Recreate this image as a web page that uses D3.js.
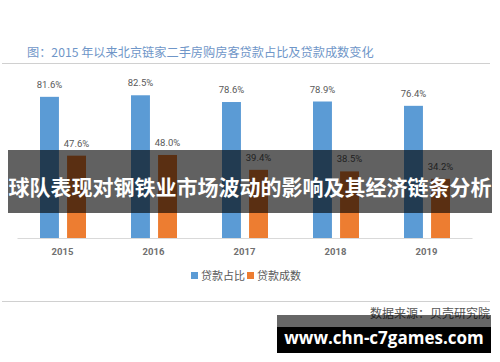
<!DOCTYPE html>
<html>
<head>
<meta charset="utf-8">
<script src="https://cdn.jsdelivr.net/npm/d3@7"></script>
<style>
  body { margin: 0; background: #fff; }
  svg { display: block; }
</style>
</head>
<body>
<div id="chart"></div>
<script>
// data
var years = ['2015', '2016', '2017', '2018', '2019'];
var loanShare = [81.6, 82.5, 78.6, 78.9, 76.4];   // 贷款占比
var loanRatio = [47.6, 48.0, 39.4, 38.5, 34.2];   // 贷款成数
var seriesNames = ['贷款占比', '贷款成数'];
var colors = ['#5b9bd5', '#ed7d31'];

var W = 500, H = 362;
var cjk = '"Noto Sans CJK SC", "Noto Sans", sans-serif';

var svg = d3.select('#chart').append('svg')
    .attr('width', W).attr('height', H);

// title + rules
svg.append('text')
    .attr('x', 27).attr('y', 57)
    .attr('font-family', cjk).attr('font-size', 12.2)
    .attr('fill', '#6f96c8')
    .text('图：2015 年以来北京链家二手房购房客贷款占比及贷款成数变化');

svg.append('line').attr('x1', 2).attr('x2', 490).attr('y1', 63.5).attr('y2', 63.5)
    .attr('stroke', '#d0d0d0').attr('stroke-width', 1);
svg.append('line').attr('x1', 2).attr('x2', 490).attr('y1', 301.5).attr('y2', 301.5)
    .attr('stroke', '#d0d0d0').attr('stroke-width', 1);

// scales
var x0 = d3.scaleBand().domain(years).range([17, 472]).padding(0);
var x1 = d3.scaleBand().domain([0, 1]).range([23, 69]).paddingInner(0.3);
var y = d3.scaleLinear().domain([0, 100]).range([238, 65]);

var data = years.map(function(yr, i) {
    return { year: yr, vals: [loanShare[i], loanRatio[i]] };
});

var g = svg.selectAll('.year').data(data).enter().append('g')
    .attr('class', 'year')
    .attr('transform', function(d) { return 'translate(' + x0(d.year) + ',0)'; });

g.selectAll('rect').data(function(d) { return d.vals; }).enter().append('rect')
    .attr('x', function(d, i) { return x1(i); })
    .attr('width', x1.bandwidth())
    .attr('y', function(d) { return y(d); })
    .attr('height', function(d) { return y(0) - y(d); })
    .attr('fill', function(d, i) { return colors[i]; });

g.selectAll('.lbl').data(function(d) { return d.vals; }).enter().append('text')
    .attr('class', 'lbl')
    .attr('x', function(d, i) { return x1(i) + x1.bandwidth() / 2; })
    .attr('y', function(d) { return y(d) - 9; })
    .attr('text-anchor', 'middle')
    .attr('font-family', 'Roboto, "Open Sans", sans-serif')
    .attr('font-size', 9.5)
    .attr('fill', '#595959')
    .text(function(d) { return d.toFixed(1) + '%'; });

// x axis
var xAxis = svg.append('g')
    .attr('transform', 'translate(0,238)')
    .call(d3.axisBottom(x0).tickSize(0).tickPadding(10));
xAxis.select('.domain').attr('stroke', '#d9d9d9');
xAxis.selectAll('text')
    .attr('font-family', 'Roboto, "Open Sans", sans-serif')
    .attr('font-size', 9.5).attr('font-weight', 'bold')
    .attr('fill', '#707070');

// legend
var legend = svg.append('g').attr('transform', 'translate(191,276)');
var lx = [0, 56];
seriesNames.forEach(function(name, i) {
    legend.append('rect').attr('x', lx[i]).attr('y', -4).attr('width', 7).attr('height', 7)
        .attr('fill', colors[i]);
    legend.append('text').attr('x', lx[i] + 10).attr('y', 4)
        .attr('font-family', cjk).attr('font-size', 11).attr('fill', '#595959')
        .text(name);
});

// source
svg.append('text')
    .attr('x', 490).attr('y', 318).attr('text-anchor', 'end')
    .attr('font-family', cjk).attr('font-size', 12).attr('fill', '#555')
    .text('数据来源：贝壳研究院');

// overlay banner
svg.append('rect').attr('x', 8).attr('y', 150).attr('width', 484).attr('height', 63)
    .attr('fill', 'rgba(0,0,0,0.62)');
svg.append('text')
    .attr('x', 250).attr('y', 195).attr('text-anchor', 'middle')
    .attr('font-family', cjk).attr('font-size', 21).attr('font-weight', 'bold')
    .attr('fill', '#fff')
    .text('球队表现对钢铁业市场波动的影响及其经济链条分析');

// watermark box
svg.append('rect').attr('x', 277).attr('y', 315).attr('width', 214).attr('height', 12)
    .attr('fill', 'rgba(0,0,0,0.6)');
svg.append('rect').attr('x', 277).attr('y', 327).attr('width', 214).attr('height', 26)
    .attr('fill', '#000');
svg.append('text')
    .attr('x', 384).attr('y', 344).attr('text-anchor', 'middle')
    .attr('font-family', '"Open Sans", "DejaVu Sans", sans-serif')
    .attr('font-size', 17).attr('font-weight', 'bold').attr('fill', '#fff')
    .text('www.chn-c7games.com');
</script>
</body>
</html>
